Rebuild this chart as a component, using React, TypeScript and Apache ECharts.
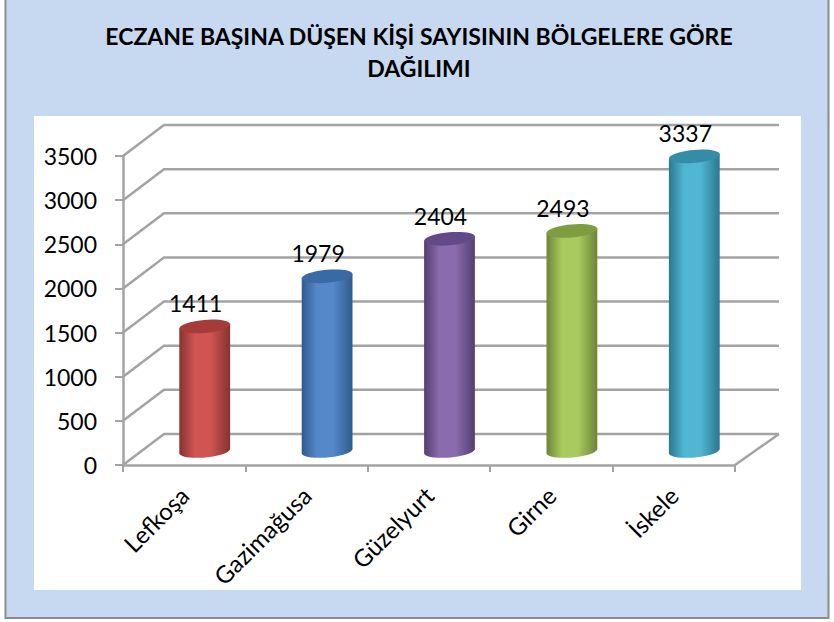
import React, { useEffect, useRef } from "react";
import * as echarts from "echarts";

const categories = ["Lefkoşa", "Gazimağusa", "Güzelyurt", "Girne", "İskele"];
const values = [1411, 1979, 2404, 2493, 3337];
const ticks = [0, 500, 1000, 1500, 2000, 2500, 3000, 3500];
const titleText = "ECZANE BAŞINA DÜŞEN KİŞİ SAYISININ BÖLGELERE GÖRE\nDAĞILIMI";
const edgeColors = ["#863230", "#2f5a8f", "#553e72", "#6b8538", "#2b7890"];
const midColors = ["#cf5452", "#5588c8", "#8a6bad", "#a8ca5e", "#50b6d2"];
const capColors = ["#a53c3a", "#3a6aa3", "#64498a", "#7f9c40", "#358ca8"];

const FONT = "Lato";
const GRID_LINE = "#a3a3a3";
const DEPTH_X = 41;
const DEPTH_Y = -31;
const MID_X = 20.5;
const MID_Y = -14;
const RX = 25.5;
const RY = 6.5;
const TILT = -0.09;

function arc(cx: number, cy: number, from: number, to: number) {
  const pts: number[][] = [];
  const n = 40;
  for (let i = 0; i <= n; i++) {
    const a = from + ((to - from) * i) / n;
    const ex = RX * Math.cos(a);
    const ey = RY * Math.sin(a);
    pts.push([cx + ex * Math.cos(TILT) - ey * Math.sin(TILT), cy + ex * Math.sin(TILT) + ey * Math.cos(TILT)]);
  }
  return pts;
}

export default function App() {
  const ref = useRef<HTMLDivElement>(null);
  useEffect(() => {
    const chart = echarts.init(ref.current!, null, { renderer: "svg" });
    chart.setOption({
      animation: false,
      backgroundColor: "#ffffff",
      title: {
        text: titleText,
        left: 414,
        top: 15,
        textAlign: "center",
        textStyle: { fontFamily: FONT, fontSize: 23, fontWeight: "bold", color: "#000", lineHeight: 32 },
      },
      graphic: [
        {
          type: "rect",
          z: -10,
          shape: { x: 5.5, y: -2, width: 823, height: 620 },
          style: { fill: "#c6d9f1", stroke: "#8c8c8c", lineWidth: 2 },
        },
        {
          type: "rect",
          z: -9,
          shape: { x: 34, y: 116, width: 767, height: 474 },
          style: { fill: "#ffffff" },
        },
      ],
      grid: { left: 123, top: 156, width: 612, height: 309, containLabel: false },
      xAxis: {
        type: "category",
        data: categories,
        axisLine: { lineStyle: { color: GRID_LINE, width: 2.5 } },
        axisTick: { show: true, length: 7, lineStyle: { color: GRID_LINE, width: 2 } },
        axisLabel: { rotate: 45, fontFamily: FONT, fontSize: 24, color: "#000", margin: 26, interval: 0 },
      },
      yAxis: {
        type: "value",
        min: 0,
        max: 3500,
        interval: 500,
        axisLine: { show: true, lineStyle: { color: GRID_LINE, width: 2.5 } },
        axisTick: { show: true, length: 8, lineStyle: { color: GRID_LINE, width: 2 } },
        splitLine: { show: false },
        axisLabel: { fontFamily: FONT, fontSize: 23, color: "#000", margin: 26, formatter: (v: number) => String(v) },
      },
      series: [
        {
          type: "custom",
          z: 1,
          silent: true,
          data: ticks.map((t) => [0, t]),
          encode: { x: 0, y: 1 },
          renderItem: (params: any, api: any) => {
            const v = api.value(1);
            const start = api.coord([0, v]);
            const band = api.size([1, 0])[0];
            const x0 = start[0] - band / 2;
            const x1 = x0 + band * categories.length;
            const y = start[1];
            const lineStyle = { stroke: GRID_LINE, lineWidth: 2.5, fill: "none" };
            const children: any[] = [
              {
                type: "polyline",
                shape: { points: [[x0, y], [x0 + DEPTH_X, y + DEPTH_Y], [x1 + DEPTH_X + 3, y + DEPTH_Y]] },
                style: lineStyle,
              },
            ];
            if (v === 0) {
              children.push({
                type: "line",
                shape: { x1, y1: y, x2: x1 + DEPTH_X + 3, y2: y + DEPTH_Y },
                style: lineStyle,
              });
            }
            return { type: "group", children };
          },
        },
        {
          type: "custom",
          z: 2,
          silent: true,
          data: values.map((v, i) => [i, v]),
          encode: { x: 0, y: 1 },
          renderItem: (params: any, api: any) => {
            const i = params.dataIndex;
            const top = api.coord([api.value(0), api.value(1)]);
            const base = api.coord([api.value(0), 0]);
            const cx = top[0] + MID_X;
            const ty = top[1] + MID_Y;
            const by = base[1] + MID_Y;
            const outline = [...arc(cx, by, Math.PI, 0), ...arc(cx, ty, 0, 0), ...arc(cx, ty, Math.PI, Math.PI)];
            const gradient = new echarts.graphic.LinearGradient(0, 0, 1, 0, [
              { offset: 0, color: edgeColors[i] },
              { offset: 0.3, color: midColors[i] },
              { offset: 0.62, color: midColors[i] },
              { offset: 1, color: edgeColors[i] },
            ]);
            return {
              type: "group",
              children: [
                { type: "polygon", shape: { points: outline }, style: { fill: gradient } },
                { type: "polygon", shape: { points: arc(cx, ty, 0, Math.PI * 2) }, style: { fill: capColors[i] } },
                {
                  type: "text",
                  style: {
                    x: cx - 9,
                    y: ty - 23,
                    text: String(values[i]),
                    fontFamily: FONT,
                    fontSize: 23,
                    fill: "#000",
                    align: "center",
                    verticalAlign: "middle",
                  },
                },
              ],
            };
          },
        },
      ],
    });
    return () => chart.dispose();
  }, []);
  return <div ref={ref} style={{ position: "absolute", left: 0, top: 0, width: 834, height: 622 }} />;
}
